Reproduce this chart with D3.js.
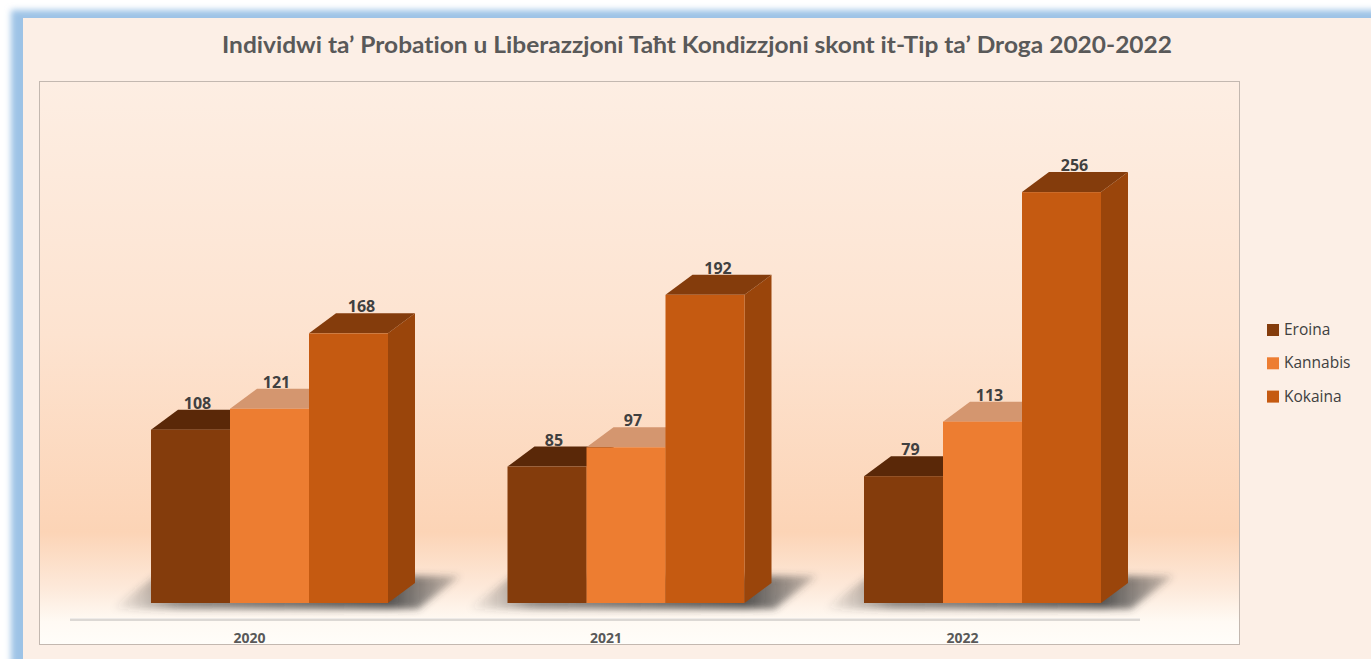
<!DOCTYPE html>
<html>
<head>
<meta charset="utf-8">
<script src="https://cdn.jsdelivr.net/npm/d3@7"></script>
<style>
  body { margin: 0; background: #fff; }
  text { font-family: "Open Sans", "Noto Sans", sans-serif; font-variant-ligatures: none; }
</style>
</head>
<body>
<div id="chart"></div>
<script>
// chart data
const years = ["2020", "2021", "2022"];
const seriesNames = ["Eroina", "Kannabis", "Kokaina"];
const eroina = [108, 85, 79];
const kannabis = [121, 97, 113];
const kokaina = [168, 192, 256];
const titleText = "Individwi ta\u2019 Probation u Liberazzjoni Ta\u0127t Kondizzjoni skont it-Tip ta\u2019 Droga 2020-2022";

const width = 1371, height = 659;
const depthX = 27, depthY = -20;   // 3d offset of the bars

// colours for front / top / side
const frontCol = ["#843c0c", "#ed7d31", "#c55a11"];
const topCol = ["#5a2808", "#d4966f", "#843c0c"];
const sideCol = ["#6a300a", "#c4661f", "#9a450b"];
const labelDx = [7, 7, 13];

const rows = years.map((y, i) => ({year: y, vals: [eroina[i], kannabis[i], kokaina[i]]}));

const svg = d3.select("#chart").append("svg")
  .attr("width", width)
  .attr("height", height);

const defs = svg.append("defs");

// blue frame glow
const glow = defs.append("filter").attr("id", "glow")
  .attr("x", "-5%").attr("y", "-5%").attr("width", "110%").attr("height", "110%");
glow.append("feGaussianBlur").attr("stdDeviation", 3);

const shBlur = defs.append("filter").attr("id", "shblur")
  .attr("x", "-20%").attr("y", "-50%").attr("width", "140%").attr("height", "200%");
shBlur.append("feGaussianBlur").attr("stdDeviation", 3.5);

// plot area gradient
const pg = defs.append("linearGradient").attr("id", "plotbg")
  .attr("x1", 0).attr("y1", 0).attr("x2", 0).attr("y2", 1);
[[0, "#fdeee3"], [0.45, "#fde3d0"], [0.8, "#fcd4b6"], [0.9, "#fde9da"], [0.96, "#fffaf4"], [1, "#fffdf9"]]
  .forEach(s => pg.append("stop").attr("offset", s[0]).attr("stop-color", s[1]));

// shadow gradient (fades to the left)
const sg = defs.append("linearGradient").attr("id", "shgrad")
  .attr("x1", 0).attr("y1", 0).attr("x2", 1).attr("y2", 0);
[[0, "#3a3a3a", 0], [0.2, "#3a3a3a", 0.55], [0.8, "#3a3a3a", 0.85], [1, "#3a3a3a", 0.25]]
  .forEach(s => sg.append("stop").attr("offset", s[0]).attr("stop-color", s[1]).attr("stop-opacity", s[2]));

// outer frame
svg.append("rect")
  .attr("x", 11).attr("y", 10).attr("width", width).attr("height", height)
  .attr("fill", "#9dc3e6").attr("filter", "url(#glow)");
svg.append("rect")
  .attr("x", 23).attr("y", 18).attr("width", width - 23).attr("height", height - 18)
  .attr("fill", "#fcefe6");

// plot area
svg.append("rect")
  .attr("x", 39.5).attr("y", 81.5).attr("width", 1200).attr("height", 563)
  .attr("fill", "url(#plotbg)")
  .attr("stroke", "#c3b8b0").attr("stroke-width", 1);

// title
svg.append("text")
  .attr("x", 697).attr("y", 53)
  .attr("text-anchor", "middle")
  .style("font-family", "Lato, 'Open Sans', sans-serif")
  .attr("font-size", "22px").attr("font-weight", "bold")
  .attr("fill", "#595959")
  .attr("textLength", 950).attr("lengthAdjust", "spacingAndGlyphs")
  .text(titleText);

// scales
const x0 = d3.scaleBand().domain(years).range([151, 1101]).paddingInner(0.3352).paddingOuter(0);
const x1 = d3.scaleBand().domain(seriesNames).range([0, x0.bandwidth()]);
const y = d3.scaleLinear().domain([0, 300]).range([603, 121.5]);

// floor axis line
svg.append("line")
  .attr("x1", 70).attr("x2", 1140).attr("y1", 619.5).attr("y2", 619.5)
  .attr("stroke", "#dcd8d4").attr("stroke-width", 3);
svg.append("line")
  .attr("x1", 70).attr("x2", 1140).attr("y1", 618.5).attr("y2", 618.5)
  .attr("stroke", "#eeebe8").attr("stroke-width", 1);

// floor shadows
svg.append("g").selectAll("polygon")
  .data(rows)
  .join("polygon")
  .attr("points", d => {
    const L = x0(d.year), R = x0(d.year) + x0.bandwidth();
    const b = y(0);
    return [[L - 40, b + 6], [R + 30, b + 6], [R + 72, b - 27], [L + 5, b - 27]].map(p => p.join(",")).join(" ");
  })
  .attr("fill", "url(#shgrad)")
  .attr("filter", "url(#shblur)");

// bars
const groups = svg.append("g").selectAll("g.grp")
  .data(rows)
  .join("g").attr("class", "grp");

groups.each(function(d) {
  const g = d3.select(this);
  d.vals.forEach((v, i) => {
    const xl = x0(d.year) + x1(seriesNames[i]);
    const xr = xl + x1.bandwidth();
    const yt = y(v), yb = y(0);
    const bar = g.append("g");
    // side face
    bar.append("polygon")
      .attr("points", [[xr, yb], [xr + depthX, yb + depthY], [xr + depthX, yt + depthY], [xr, yt]].map(p => p.join(",")).join(" "))
      .attr("fill", sideCol[i]);
    // top face
    bar.append("polygon")
      .attr("points", [[xl, yt], [xl + depthX, yt + depthY], [xr + depthX, yt + depthY], [xr, yt]].map(p => p.join(",")).join(" "))
      .attr("fill", topCol[i]);
    // front face
    bar.append("rect")
      .attr("x", xl).attr("y", yt)
      .attr("width", x1.bandwidth()).attr("height", yb - yt)
      .attr("fill", frontCol[i]);
  });
});

// data labels
groups.each(function(d) {
  const g = d3.select(this);
  d.vals.forEach((v, i) => {
    const xc = x0(d.year) + x1(seriesNames[i]) + x1.bandwidth() / 2 + labelDx[i];
    g.append("text")
      .attr("x", xc).attr("y", y(v) + depthY - 1)
      .attr("text-anchor", "middle")
      .attr("font-size", "16px").attr("font-weight", "bold")
      .attr("fill", "#404040")
      .text(v);
  });
});

// category labels
svg.append("g").selectAll("text")
  .data(years)
  .join("text")
  .attr("x", d => x0(d) + x0.bandwidth() / 2 - 20)
  .attr("y", 643)
  .attr("text-anchor", "middle")
  .attr("font-size", "14px").attr("font-weight", "bold")
  .attr("fill", "#595959")
  .text(d => d);

// legend
const legend = svg.append("g").selectAll("g")
  .data(seriesNames)
  .join("g")
  .attr("transform", (d, i) => `translate(1267, ${335 + i * 33.3})`);
legend.append("rect")
  .attr("x", 0).attr("y", -11).attr("width", 12).attr("height", 12)
  .attr("fill", (d, i) => frontCol[i]);
legend.append("text")
  .attr("x", 17).attr("y", 0)
  .attr("font-size", "15.5px")
  .attr("fill", "#404040")
  .text(d => d);
</script>
</body>
</html>
